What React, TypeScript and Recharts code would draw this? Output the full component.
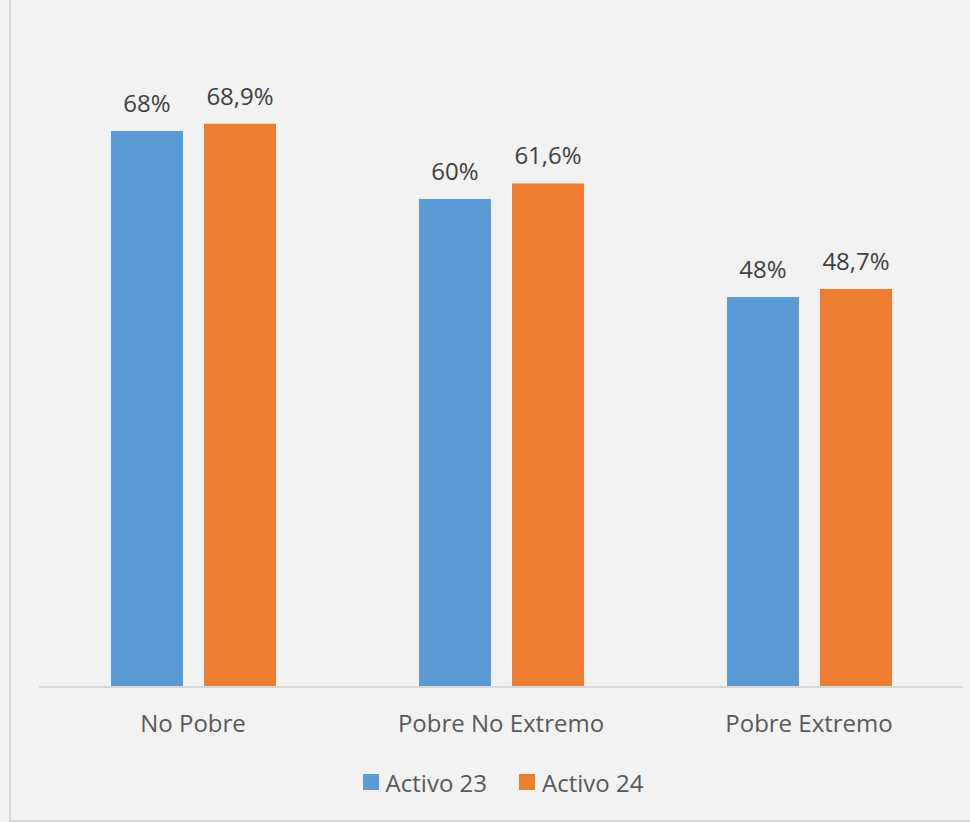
import React from "react";
import { BarChart, Bar, XAxis, YAxis, LabelList, Legend } from "recharts";

const categories = ["No Pobre", "Pobre No Extremo", "Pobre Extremo"];
const activo23 = [68, 59.7, 47.7];
const activo24 = [68.9, 61.6, 48.7];
const seriesNames = ["Activo 23", "Activo 24"];
const colors = ["#5B9BD5", "#ED7D31"];

const data = categories.map((c, i) => ({
  name: c,
  a23: activo23[i],
  a24: activo24[i],
}));

const FONT = "'Open Sans', sans-serif";

const fmt23 = (v: any) => `${Math.round(Number(v))}%`;
const fmt24 = (v: any) => `${Number(v).toFixed(1).replace(".", ",")}%`;

const LegendContent = (props: any) => {
  const { payload } = props;
  return (
    <div
      style={{
        height: 40,
        display: "flex",
        justifyContent: "center",
        alignItems: "center",
        fontFamily: FONT,
        fontSize: 24,
        color: "#595959",
        paddingLeft: 4,
      }}
    >
      {(payload || []).map((p: any, i: number) => (
        <div
          key={i}
          style={{ display: "flex", alignItems: "center", marginLeft: i > 0 ? 32 : 0 }}
        >
          <div style={{ width: 16, height: 16, background: p.color, marginRight: 7 }} />
          <span>{p.value}</span>
        </div>
      ))}
    </div>
  );
};

export default function App() {
  return (
    <div
      style={{
        position: "absolute",
        top: 0,
        left: 0,
        width: 970,
        height: 822,
        background: "#f2f2f2",
        overflow: "hidden",
      }}
    >
      <div
        style={{
          position: "absolute",
          left: 9,
          top: -2,
          width: 970,
          height: 824,
          borderLeft: "2px solid #d9d9d9",
          borderBottom: "2px solid #d9d9d9",
          boxSizing: "border-box",
        }}
      />
      <div style={{ position: "absolute", top: 0, left: 0 }}>
        <BarChart
          width={970}
          height={822}
          data={data}
          margin={{ top: 33, right: 7, left: 39, bottom: 35 }}
          barCategoryGap={72}
          barGap={21}
        >
          <XAxis
            dataKey="name"
            axisLine={{ stroke: "#d9d9d9", strokeWidth: 2 }}
            tickLine={false}
            tickSize={0}
            tickMargin={28}
            height={60}
            tick={{ fill: "#595959", fontSize: 24, fontFamily: FONT }}
            interval={0}
          />
          <YAxis hide domain={[0, 80]} />
          <Legend
            verticalAlign="bottom"
            content={<LegendContent />}
            wrapperStyle={{ bottom: 20 }}
          />
          <Bar dataKey="a23" name={seriesNames[0]} fill={colors[0]} isAnimationActive={false}>
            <LabelList
              dataKey="a23"
              position="top"
              offset={19}
              formatter={fmt23}
              style={{ fill: "#404040", fontSize: 24, fontFamily: FONT }}
            />
          </Bar>
          <Bar dataKey="a24" name={seriesNames[1]} fill={colors[1]} isAnimationActive={false}>
            <LabelList
              dataKey="a24"
              position="top"
              offset={19}
              formatter={fmt24}
              style={{ fill: "#404040", fontSize: 24, fontFamily: FONT }}
            />
          </Bar>
        </BarChart>
      </div>
    </div>
  );
}
